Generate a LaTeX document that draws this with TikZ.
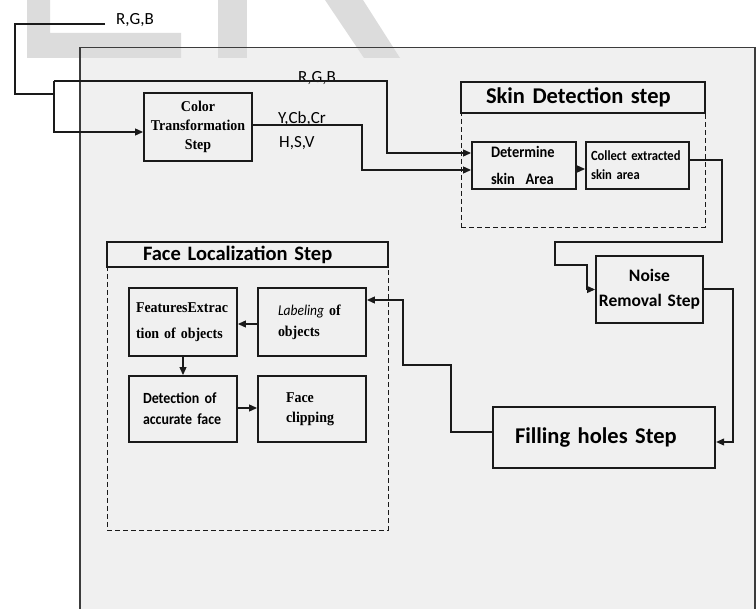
\documentclass[tikz,border=0pt]{standalone}
\usepackage{fontspec}
\usetikzlibrary{arrows.meta}
\newfontfamily\calib{Carlito}
\newfontfamily\calibn[FakeStretch=0.9]{Carlito}
\newfontfamily\calibh[WordSpace=0.6]{Carlito}
\newfontfamily\tnr[FakeStretch=0.93]{Liberation Serif}
\definecolor{panelgray}{HTML}{F0F0F0}
\definecolor{markgray}{HTML}{DCDCDC}
\definecolor{inkline}{HTML}{1A1A1A}
\definecolor{framegray}{HTML}{3C3C3C}

\tikzset{
  box/.style={draw=inkline, line width=1.9pt, inner ysep=0pt, text=black},
  lbox/.style={box, align=left},
  cbox/.style={box, align=center},
  headbox/.style={draw=inkline, inner ysep=0pt, align=left, text=black},
  zone/.style={draw=inkline, line width=0.9pt, dash pattern=on 5pt off 3pt, inner sep=0pt},
  link/.style={draw=inkline, line width=1.1pt},
  arr/.style={link, -{Triangle[length=8pt,width=7pt]}},
  chan/.style={font=\calib\fontsize{17}{20}\selectfont, inner sep=0pt, anchor=base west, text=black},
}

\begin{document}
\begin{tikzpicture}[x=1pt,y=-1pt]
\useasboundingbox (0,0) rectangle (756,609);

% page and panel
\fill[white] (0,0) rectangle (756,609);
\fill[panelgray] (80,47.5) rectangle (755,609);

% faint background lettering
\fill[markgray] (27,0) -- (50,0) -- (50,33) -- (181,33) -- (181,58) -- (27,58) -- cycle;
\fill[markgray] (218,0) rectangle (247,58);
\fill[markgray] (325,0) -- (363,0) -- (400,58) -- (364,58) -- cycle;

% panel frame
\draw[framegray, line width=1.1pt] (80,612) -- (80,47.5) -- (755,47.5) -- (755,612);

% skin detection group
\node[zone, minimum width=244pt, minimum height=114pt] (skinzone) at (583,170) {};
\node[headbox, line width=2.7pt, minimum width=244pt, minimum height=31pt,
      inner xsep=25pt, text width=194pt, font=\calibh\bfseries\fontsize{22.5}{26}\selectfont]
      (skinhead) at (583,97.5) {Skin Detection step};
\node[lbox, minimum width=104pt, minimum height=47pt, inner xsep=19pt, text width=66pt,
      font=\calibn\bfseries\fontsize{16}{27}\selectfont]
      (det) at (524,165.5) {Determine\\skin~ Area};
\node[lbox, minimum width=103pt, minimum height=47pt, inner xsep=5pt, text width=93pt,
      font=\calibn\bfseries\fontsize{14}{19}\selectfont]
      (col) at (637.5,165.5) {Collect extracted\\skin area};

% face localization group
\node[zone, minimum width=281pt, minimum height=263pt] (facezone) at (247.5,398.5) {};
\node[headbox, line width=2.3pt, minimum width=281pt, minimum height=25pt,
      inner xsep=36pt, text width=209pt, font=\calib\bfseries\fontsize{20.5}{24}\selectfont]
      (facehead) at (247.5,254.5) {Face Localization Step};
\node[lbox, minimum width=108pt, minimum height=68pt, inner xsep=7pt, text width=94pt,
      font=\tnr\bfseries\fontsize{15}{26}\selectfont]
      (feat) at (183,322) {FeaturesExtrac\\tion of objects};
\node[lbox, minimum width=108pt, minimum height=68pt, inner xsep=20pt, text width=68pt,
      font=\tnr\bfseries\fontsize{15}{21}\selectfont]
      (lab) at (312,322) {{\calibn\mdseries\itshape Labeling} of\\objects};
\node[lbox, minimum width=108pt, minimum height=66pt, inner xsep=14pt, text width=80pt,
      font=\calibn\bfseries\fontsize{15.5}{21}\selectfont]
      (detect) at (183,409) {Detection of\\accurate face};
\node[lbox, minimum width=108pt, minimum height=66pt, inner xsep=28pt, text width=52pt,
      font=\tnr\bfseries\fontsize{15}{20}\selectfont]
      (clip) at (312,409) {Face\\clipping};

% standalone steps
\node[cbox, minimum width=108pt, minimum height=68pt, inner xsep=4pt, text width=100pt,
      font=\tnr\bfseries\fontsize{15}{19}\selectfont]
      (color) at (198,127) {Color\\Transformation\\Step};
\node[cbox, minimum width=107pt, minimum height=67pt, inner xsep=2pt, text width=103pt,
      font=\calib\bfseries\fontsize{17.5}{25}\selectfont]
      (noise) at (649.5,289.5) {Noise\\Removal Step};
\node[lbox, line width=2.3pt, minimum width=222pt, minimum height=61pt, inner xsep=22pt,
      text width=178pt, font=\calibh\bfseries\fontsize{22.5}{26}\selectfont]
      (holes) at (604,437.5) {Filling holes Step};

% channel labels
\node[chan] (rgbA) at (116,25) {R,G,B};
\node[chan] (rgbB) at (298,83) {R,G,B};
\node[chan] (ycc) at (278,124) {Y,Cb,Cr};
\node[chan] (hsv) at (279,148) {H,S,V};

% input wiring
\coordinate (rgbtail) at (105,24);
\coordinate (fork) at (54,81);
\draw[link] (rgbtail) -- (15,24) -- (15,94) -- (54,94);
\draw[arr] (fork) |- ([yshift=-5pt]color.west);
\draw[arr] (fork) -- (387,81) |- ([yshift=12.5pt]det.west);
\draw[arr] ([yshift=2pt]color.east) -- (362,125) |- ([yshift=-4.5pt]det.west);

% skin detection flow
\draw[arr] ([yshift=-3.5pt]det.east) -- ([yshift=-3.5pt]col.west);
\draw[arr] ([yshift=5.5pt]col.east) -| (722,242) -| (555,265) -- (587,265) |- (noise.west);
\draw[arr] ([yshift=0.5pt]noise.east) -- (733,289) |- ([yshift=-4.5pt]holes.east);
\draw[arr] ([yshift=5.5pt]holes.west) -| (451,365) -| (403,300) -- ([yshift=22pt]lab.east);

% face localization flow
\draw[arr] ([yshift=-2pt]lab.west) -- ([yshift=-2pt]feat.east);
\draw[arr] (feat.south) -- (detect.north);
\draw[arr] ([yshift=1pt]detect.east) -- ([yshift=1pt]clip.west);
\end{tikzpicture}
\end{document}
